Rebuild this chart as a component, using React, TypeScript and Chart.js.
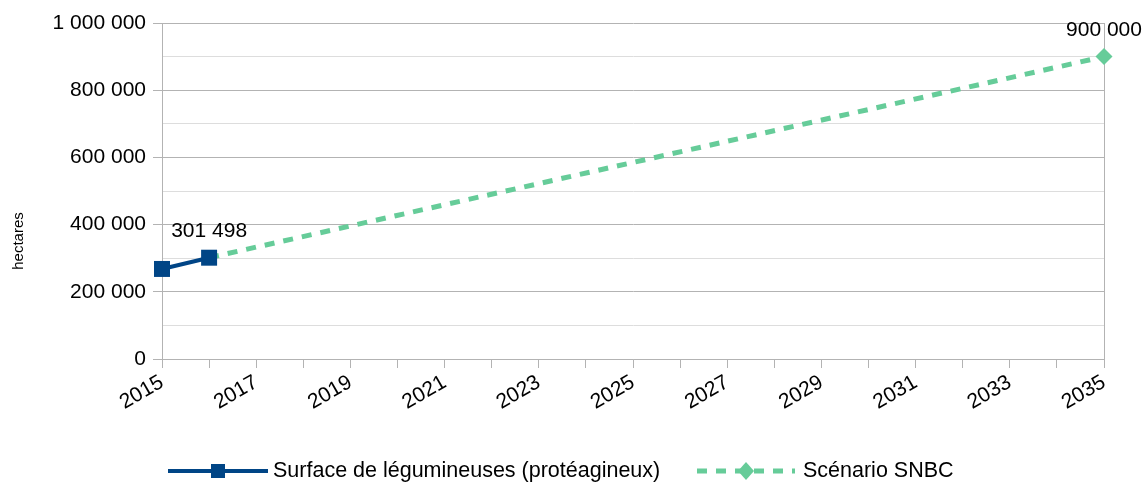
import React, { useEffect, useRef } from 'react';
import { Chart, registerables } from 'chart.js';

Chart.register(...registerables);

// ---- data ----
const surfaceYears = [2015, 2016];
const surfaceValues = [268000, 301498];
const snbcYears = [2016, 2035];
const snbcValues = [301498, 900000];
const surfaceLabelIdx = [1];
const snbcLabelIdx = [1];
const xMin = 2015;
const xMax = 2035;
const yMin = 0;
const yMax = 1000000;
const surfaceName = 'Surface de légumineuses (protéagineux)';
const snbcName = 'Scénario SNBC';
const yTitle = 'hectares';

const FONT = '"Liberation Sans", Arial, sans-serif';
const BLUE = '#004586';
const GREEN = '#66cc99';
const GRID_MAJOR = '#b3b3b3';
const GRID_MINOR = '#dddddd';

function fmt(v: number): string {
  return String(Math.round(v)).replace(/\B(?=(\d{3})+(?!\d))/g, ' ');
}

const overlay = {
  id: 'overlay',
  afterDatasetsDraw(chart: any) {
    const ctx = chart.ctx;
    ctx.save();
    ctx.font = `21px ${FONT}`;
    ctx.fillStyle = '#000';
    ctx.textAlign = 'center';
    ctx.textBaseline = 'middle';
    chart.data.datasets.forEach((ds: any, di: number) => {
      const meta = chart.getDatasetMeta(di);
      (ds.labelIdx || []).forEach((i: number) => {
        const pt = meta.data[i];
        if (!pt) return;
        ctx.fillText(fmt(ds.data[i].y), pt.x, pt.y - 26);
      });
    });
    ctx.restore();
  },
  afterDraw(chart: any) {
    const ctx = chart.ctx;
    ctx.save();
    // y axis title
    ctx.translate(19, 241);
    ctx.rotate(-Math.PI / 2);
    ctx.font = `15px ${FONT}`;
    ctx.fillStyle = '#000';
    ctx.textAlign = 'center';
    ctx.textBaseline = 'middle';
    ctx.fillText(yTitle, 0, 0);
    ctx.restore();

    // legend
    const ly = 471;
    ctx.save();
    ctx.strokeStyle = BLUE;
    ctx.lineWidth = 4;
    ctx.beginPath();
    ctx.moveTo(168, ly);
    ctx.lineTo(268, ly);
    ctx.stroke();
    ctx.fillStyle = BLUE;
    ctx.fillRect(218 - 7, ly - 7, 14, 14);

    ctx.strokeStyle = GREEN;
    ctx.lineWidth = 5;
    ctx.setLineDash([10, 9]);
    ctx.beginPath();
    ctx.moveTo(697, ly);
    ctx.lineTo(795, ly);
    ctx.stroke();
    ctx.setLineDash([]);
    ctx.fillStyle = GREEN;
    ctx.beginPath();
    ctx.moveTo(746, ly - 9);
    ctx.lineTo(754, ly);
    ctx.lineTo(746, ly + 9);
    ctx.lineTo(738, ly);
    ctx.closePath();
    ctx.fill();

    ctx.font = `21.5px ${FONT}`;
    ctx.fillStyle = '#000';
    ctx.textAlign = 'left';
    ctx.textBaseline = 'middle';
    ctx.fillText(surfaceName, 273, ly);
    ctx.fillText(snbcName, 803, ly);
    ctx.restore();
  },
};

export default function App() {
  const ref = useRef<HTMLCanvasElement>(null);
  useEffect(() => {
    if (!ref.current) return;
    const chart = new Chart(ref.current, {
      type: 'line',
      data: {
        datasets: [
          {
            label: surfaceName,
            data: surfaceYears.map((x, i) => ({ x, y: surfaceValues[i] })),
            borderColor: BLUE,
            backgroundColor: BLUE,
            borderWidth: 4,
            pointStyle: 'rect',
            pointRadius: 11.3,
            pointHoverRadius: 11.3,
            pointBorderWidth: 0,
            tension: 0,
            clip: false,
            labelIdx: surfaceLabelIdx,
          } as any,
          {
            label: snbcName,
            data: snbcYears.map((x, i) => ({ x, y: snbcValues[i] })),
            borderColor: GREEN,
            backgroundColor: GREEN,
            borderWidth: 5,
            borderDash: [10, 9],
            pointStyle: 'rectRot',
            pointRadius: (c: any) => (c.dataIndex === snbcYears.length - 1 ? 8.5 : 0),
            pointBorderWidth: 0,
            tension: 0,
            clip: false,
            labelIdx: snbcLabelIdx,
          } as any,
        ],
      },
      options: {
        animation: false,
        responsive: false,
        maintainAspectRatio: false,
        layout: { padding: { top: 23, right: 40, bottom: 64, left: 0 } },
        plugins: {
          legend: { display: false },
          tooltip: { enabled: false },
          title: { display: false },
        },
        scales: {
          x: {
            type: 'linear',
            min: xMin,
            max: xMax,
            afterFit: (s: any) => {
              s.height = 60;
            },
            border: { display: true, color: GRID_MAJOR, width: 1 },
            grid: {
              drawOnChartArea: true,
              color: (c: any) => (c.tick && c.tick.value === xMax ? GRID_MAJOR : 'rgba(0,0,0,0)'),
              tickColor: GRID_MAJOR,
              tickLength: 9,
            },
            ticks: {
              stepSize: 1,
              autoSkip: false,
              maxRotation: 30,
              minRotation: 30,
              padding: 2,
              color: '#000',
              font: { family: FONT, size: 21 },
              callback: (v: any) => (Number(v) % 2 === 1 ? String(v) : ''),
            },
          },
          y: {
            type: 'linear',
            min: yMin,
            max: yMax,
            afterFit: (s: any) => {
              s.width = 162;
            },
            border: { display: true, color: GRID_MAJOR, width: 1 },
            grid: {
              color: (c: any) => (c.tick && c.tick.value % 200000 === 0 ? GRID_MAJOR : GRID_MINOR),
              tickColor: (c: any) => (c.tick && c.tick.value % 200000 === 0 ? GRID_MAJOR : 'rgba(0,0,0,0)'),
              tickLength: 9,
            },
            ticks: {
              stepSize: 100000,
              autoSkip: false,
              padding: 7,
              color: '#000',
              font: { family: FONT, size: 21 },
              callback: (v: any) => (Number(v) % 200000 === 0 ? fmt(Number(v)) : ''),
            },
          },
        },
      },
      plugins: [overlay],
    });
    return () => chart.destroy();
  }, []);
  return (
    <div style={{ position: 'absolute', left: 0, top: 0, width: 1144, height: 483 }}>
      <canvas ref={ref} width={1144} height={483} />
    </div>
  );
}
